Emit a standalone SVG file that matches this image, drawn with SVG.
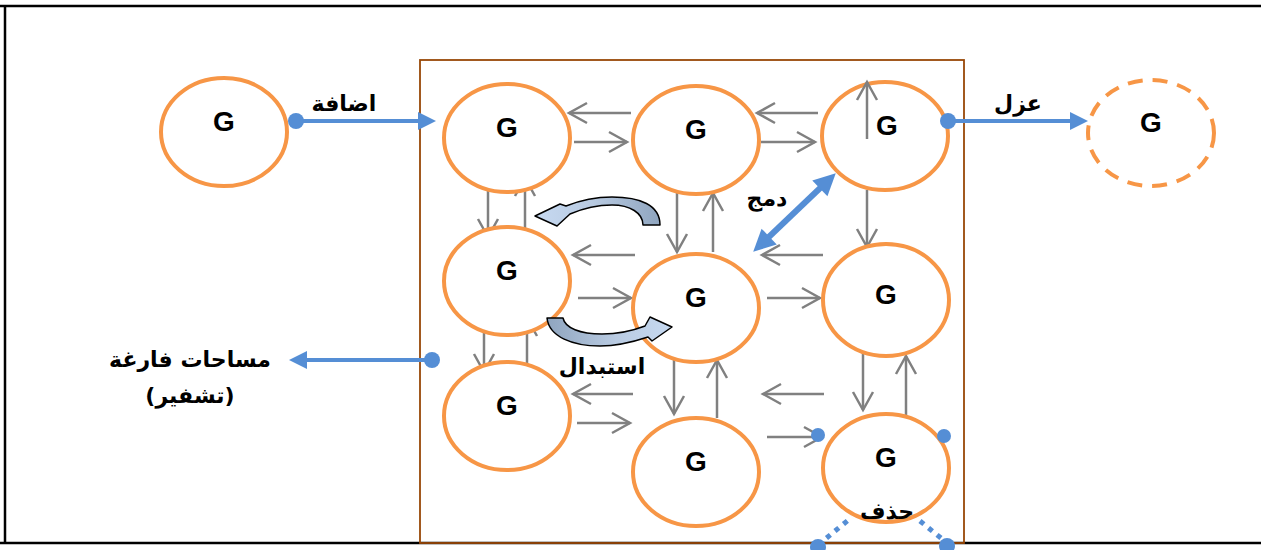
<svg xmlns="http://www.w3.org/2000/svg" width="1261" height="550" viewBox="0 0 1261 550">
  <defs>
    <style>
      .node { fill: #fff; stroke: #F79646; stroke-width: 4; }
      .ghost { fill: #fff; stroke: #F79646; stroke-width: 4; stroke-dasharray: 15 10; }
      .g { font-family: "Liberation Sans", Arial, sans-serif; font-weight: bold; font-size: 28px; fill: #000; text-anchor: middle; }
      .ar { font-family: "DejaVu Sans", "Noto Sans", sans-serif; font-weight: bold; font-size: 22px; fill: #000; text-anchor: middle; direction: rtl; }
      .link { stroke: #808080; stroke-width: 2.5; fill: none; marker-end: url(#open); }
      .blue { stroke: #558ED5; stroke-width: 4; fill: none; }
      .bluefill { fill: #558ED5; }
      .dots { stroke: #558ED5; stroke-width: 5; stroke-dasharray: 5 6; fill: none; }
      .curve { stroke: #000; stroke-width: 1.5; stroke-linejoin: round; }
    </style>
    <marker id="open" markerUnits="userSpaceOnUse" markerWidth="24" markerHeight="24" viewBox="0 0 24 24" refX="21" refY="12" orient="auto">
      <path d="M3,2 L21,12 L3,22" fill="none" stroke="#808080" stroke-width="2.5"/>
    </marker>
    <linearGradient id="swapL" x1="0" y1="0" x2="1" y2="0">
      <stop offset="0" stop-color="#8FA5BF"/>
      <stop offset="0.55" stop-color="#B9CBE2"/>
      <stop offset="1" stop-color="#C6D9F1"/>
    </linearGradient>
    <linearGradient id="swapR" x1="0" y1="0" x2="1" y2="0">
      <stop offset="0" stop-color="#C6D9F1"/>
      <stop offset="0.45" stop-color="#B9CBE2"/>
      <stop offset="1" stop-color="#8FA5BF"/>
    </linearGradient>
    <clipPath id="clipLabel">
      <rect x="0" y="0" width="420" height="409"/>
    </clipPath>
  </defs>

  <rect x="0" y="0" width="1261" height="550" fill="#fff"/>

  <!-- outer frame -->
  <g id="frame" stroke="#000" stroke-width="2.5" fill="none">
    <line x1="0" y1="6" x2="1261" y2="6"/>
    <line x1="5" y1="6" x2="5" y2="544"/>
    <line x1="0" y1="543" x2="1261" y2="543"/>
  </g>

  <!-- container box -->
  <g id="container">
    <rect x="420" y="60" width="544" height="483" fill="none" stroke="#984807" stroke-width="1.8"/>
  </g>

  <!-- grid links -->
  <g id="connectors">
    <line class="link" x1="631" y1="113" x2="569" y2="113"/>
    <line class="link" x1="574" y1="142" x2="627" y2="142"/>
    <line class="link" x1="818" y1="113" x2="757" y2="113"/>
    <line class="link" x1="761" y1="142" x2="815" y2="142"/>

    <line class="link" x1="488" y1="178" x2="488" y2="237"/>
    <line class="link" x1="525" y1="237" x2="525" y2="178"/>
    <line class="link" x1="677" y1="193" x2="677" y2="252"/>
    <line class="link" x1="713" y1="252" x2="713" y2="193"/>
    <line class="link" x1="867" y1="190" x2="867" y2="247"/>

    <line class="link" x1="635" y1="255" x2="573" y2="255"/>
    <line class="link" x1="578" y1="298" x2="631" y2="298"/>
    <line class="link" x1="823" y1="255" x2="762" y2="255"/>
    <line class="link" x1="767" y1="298" x2="820" y2="298"/>

    <line class="link" x1="484" y1="313" x2="484" y2="372"/>
    <line class="link" x1="527" y1="377" x2="527" y2="318"/>
    <line class="link" x1="674" y1="356" x2="674" y2="414"/>
    <line class="link" x1="717" y1="418" x2="717" y2="360"/>
    <line class="link" x1="863" y1="353" x2="863" y2="410"/>
    <line class="link" x1="906" y1="415" x2="906" y2="356"/>

    <line class="link" x1="633" y1="394" x2="573" y2="394"/>
    <line class="link" x1="577" y1="423" x2="630" y2="423"/>
    <line class="link" x1="824" y1="394" x2="763" y2="394"/>
    <line class="link" x1="767" y1="437" x2="822" y2="437"/>
  </g>

  <!-- nodes -->
  <g id="n-new"><ellipse class="node" cx="224" cy="132" rx="63" ry="54"/><text class="g" x="224" y="131">G</text></g>
  <g id="n-r1c1"><ellipse class="node" cx="507" cy="138" rx="63" ry="54"/><text class="g" x="507" y="137">G</text></g>
  <g id="n-r1c2"><ellipse class="node" cx="696" cy="140" rx="63" ry="54"/><text class="g" x="696" y="139">G</text></g>
  <g id="n-r1c3"><ellipse class="node" cx="885" cy="136" rx="63" ry="54"/><text class="g" x="887" y="135">G</text></g>
  <g id="n-isolated"><ellipse class="ghost" cx="1151" cy="133" rx="63" ry="53"/><text class="g" x="1151" y="132">G</text></g>
  <g id="n-r2c1"><ellipse class="node" cx="507" cy="281" rx="63" ry="54"/><text class="g" x="507" y="280">G</text></g>
  <g id="n-r2c2"><ellipse class="node" cx="696" cy="308" rx="63" ry="54"/><text class="g" x="696" y="307">G</text></g>
  <g id="n-r2c3"><ellipse class="node" cx="886" cy="300" rx="63" ry="56"/><text class="g" x="886" y="304">G</text></g>
  <g id="n-r3c1"><ellipse class="node" cx="507" cy="416" rx="63" ry="54"/><text class="g" x="507" y="415">G</text></g>
  <g id="n-r3c2"><ellipse class="node" cx="696" cy="472" rx="63" ry="54"/><text class="g" x="696" y="471">G</text></g>
  <g id="n-r3c3"><ellipse class="node" cx="886" cy="468" rx="63" ry="54"/><text class="g" x="886" y="467">G</text></g>

  <!-- arrow drawn over the top-right node -->
  <g id="self-link">
    <line class="link" x1="867" y1="139" x2="867" y2="82"/>
  </g>

  <!-- operations -->
  <g id="op-add">
    <line class="blue" x1="296" y1="121" x2="420" y2="121"/>
    <circle class="bluefill" cx="296" cy="121" r="8"/>
    <polygon class="bluefill" points="436,121 418,112 418,130"/>
    <text class="ar" x="344" y="111">اضافة</text>
  </g>

  <g id="op-isolate">
    <line class="blue" x1="948" y1="121" x2="1072" y2="121"/>
    <circle class="bluefill" cx="948" cy="121" r="8"/>
    <polygon class="bluefill" points="1088,121 1070,112 1070,130"/>
    <text class="ar" x="1018" y="111">عزل</text>
  </g>

  <g id="op-free">
    <line class="blue" x1="432" y1="360" x2="305" y2="360"/>
    <circle class="bluefill" cx="432" cy="360" r="8"/>
    <polygon class="bluefill" points="289,360 307,351 307,369"/>
    <text class="ar" x="190" y="367">مساحات فارغة</text>
    <text class="ar" x="190" y="403" clip-path="url(#clipLabel)">(تشفير)</text>
  </g>

  <g id="op-merge">
    <g transform="translate(794.5 212.5) rotate(136.4)">
      <line x1="-38" y1="0" x2="38" y2="0" stroke="#558ED5" stroke-width="6"/>
      <polygon class="bluefill" points="57,0 35,-11 35,11"/>
      <polygon class="bluefill" points="-57,0 -35,-11 -35,11"/>
    </g>
    <text class="ar" x="767" y="206">دمج</text>
  </g>

  <g id="op-swap">
    <path class="curve" fill="url(#swapR)" d="M660,225 C660,205 640,197 612,197 C592,197 576,202 566,206 L560,204 L535,216 L557,226 L570,214 C584,208 598,205 612,205 C630,205 643,213 643,225 Z"/>
    <path class="curve" fill="url(#swapL)" d="M547,318 C549,337 573,346 600,346 C620,346 636,341 648,337 L652,341 L672,327 L650,317 L645,326 C632,331 617,334 602,334 C580,334 565,328 563,318 Z"/>
    <text class="ar" x="602" y="374">استبدال</text>
  </g>

  <g id="op-delete">
    <path class="dots" d="M818,545 L852,517"/>
    <path class="dots" d="M920,521 L947,543"/>
    <circle class="bluefill" cx="818" cy="435" r="7"/>
    <circle class="bluefill" cx="944" cy="436" r="7"/>
    <circle class="bluefill" cx="818" cy="547" r="8"/>
    <circle class="bluefill" cx="947" cy="546" r="8"/>
    <text class="ar" x="887" y="519">حذف</text>
  </g>
</svg>
